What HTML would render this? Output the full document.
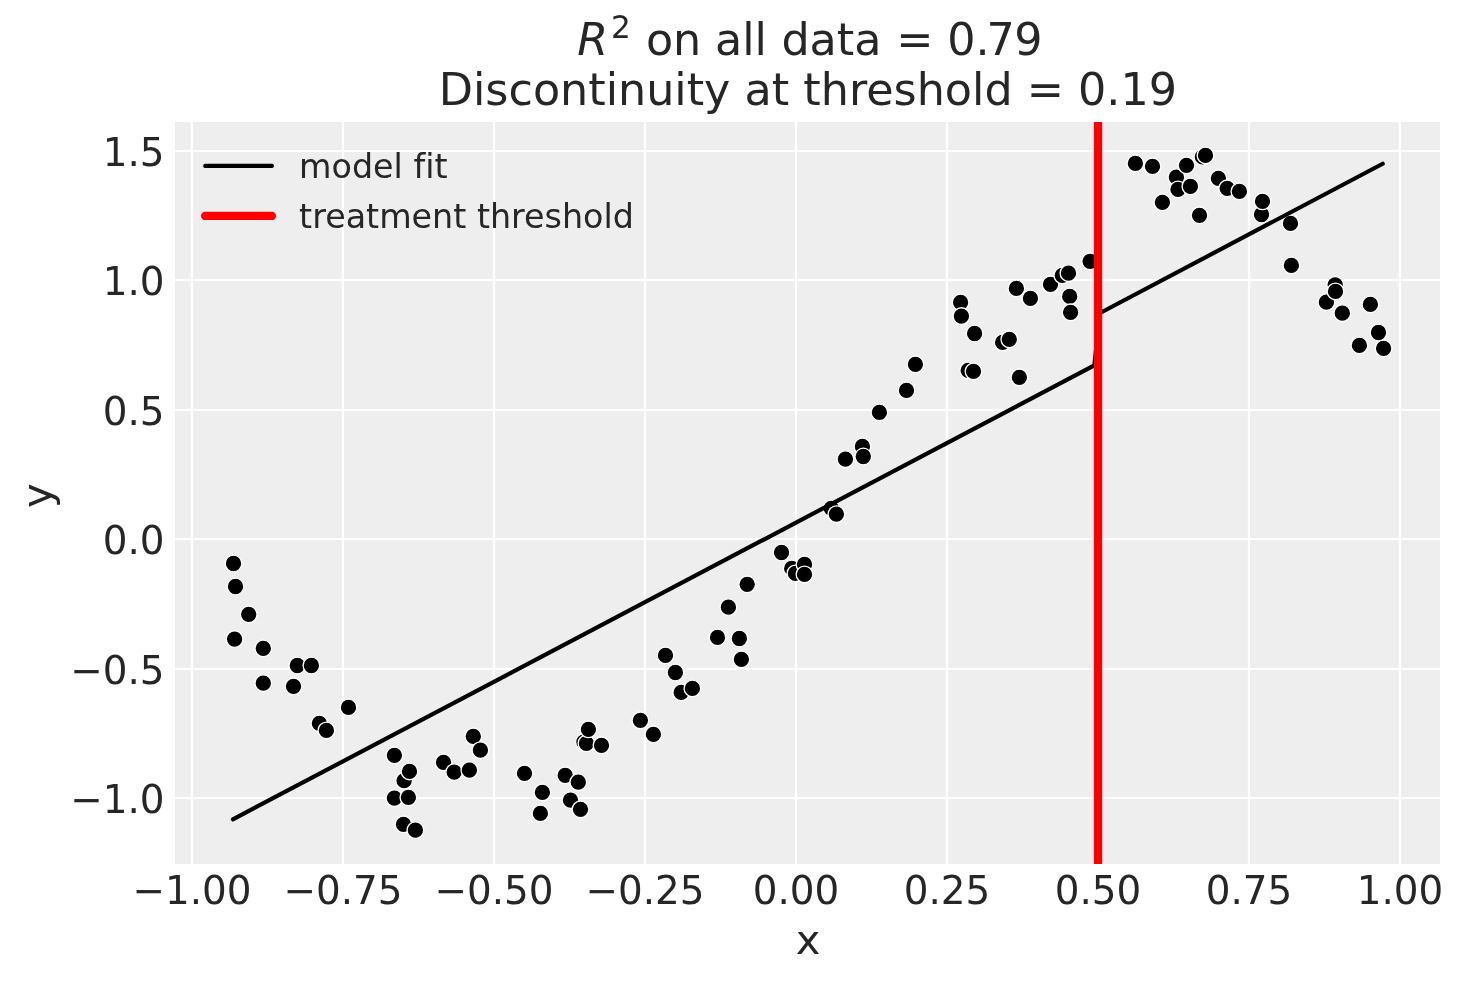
<!DOCTYPE html>
<html lang="en"><head><meta charset="utf-8"><title>Regression discontinuity</title>
<style>
html,body{margin:0;padding:0;background:#fff;}
body{width:1463px;height:983px;overflow:hidden;}
svg{display:block;will-change:transform;}
text{font-family:"DejaVu Sans", "Liberation Sans", sans-serif;fill:#262626;font-variant-ligatures:none;font-feature-settings:"liga" 0,"clig" 0;}
.tick{font-size:38.89px;}
.lab{font-size:41.67px;}
.leg{font-size:33.33px;}
.title{font-size:44.44px;}
.grid line{stroke:#fff;stroke-width:2.22;}
.pts circle{fill:#000;stroke:#fff;stroke-width:1.33;}
</style></head><body>
<svg width="1463" height="983" viewBox="0 0 1463 983">
<rect x="0" y="0" width="1463" height="983" fill="#ffffff"/>
<rect x="175.00" y="122.00" width="1265.00" height="742.00" fill="#eeeeee"/>
<g class="grid">
<line x1="192.00" y1="122.00" x2="192.00" y2="864.00"/>
<line x1="343.00" y1="122.00" x2="343.00" y2="864.00"/>
<line x1="494.00" y1="122.00" x2="494.00" y2="864.00"/>
<line x1="645.00" y1="122.00" x2="645.00" y2="864.00"/>
<line x1="796.00" y1="122.00" x2="796.00" y2="864.00"/>
<line x1="947.00" y1="122.00" x2="947.00" y2="864.00"/>
<line x1="1098.00" y1="122.00" x2="1098.00" y2="864.00"/>
<line x1="1249.00" y1="122.00" x2="1249.00" y2="864.00"/>
<line x1="1400.00" y1="122.00" x2="1400.00" y2="864.00"/>
<line x1="175.00" y1="151.00" x2="1440.00" y2="151.00"/>
<line x1="175.00" y1="280.00" x2="1440.00" y2="280.00"/>
<line x1="175.00" y1="410.00" x2="1440.00" y2="410.00"/>
<line x1="175.00" y1="539.00" x2="1440.00" y2="539.00"/>
<line x1="175.00" y1="669.00" x2="1440.00" y2="669.00"/>
<line x1="175.00" y1="798.00" x2="1440.00" y2="798.00"/>
</g>
<g class="pts">
<circle cx="233.50" cy="563.50" r="8.33"/>
<circle cx="235.50" cy="586.50" r="8.33"/>
<circle cx="248.70" cy="614.30" r="8.33"/>
<circle cx="234.60" cy="639.10" r="8.33"/>
<circle cx="263.30" cy="648.30" r="8.33"/>
<circle cx="297.30" cy="665.50" r="8.33"/>
<circle cx="311.40" cy="665.50" r="8.33"/>
<circle cx="263.30" cy="683.20" r="8.33"/>
<circle cx="293.50" cy="686.30" r="8.33"/>
<circle cx="348.50" cy="707.40" r="8.33"/>
<circle cx="319.40" cy="723.30" r="8.33"/>
<circle cx="326.40" cy="730.40" r="8.33"/>
<circle cx="394.40" cy="755.30" r="8.33"/>
<circle cx="404.10" cy="780.70" r="8.33"/>
<circle cx="409.50" cy="771.40" r="8.33"/>
<circle cx="394.40" cy="798.10" r="8.33"/>
<circle cx="408.40" cy="797.40" r="8.33"/>
<circle cx="403.50" cy="824.30" r="8.33"/>
<circle cx="415.40" cy="830.20" r="8.33"/>
<circle cx="443.50" cy="762.30" r="8.33"/>
<circle cx="454.20" cy="772.20" r="8.33"/>
<circle cx="469.40" cy="770.20" r="8.33"/>
<circle cx="473.30" cy="736.30" r="8.33"/>
<circle cx="480.40" cy="750.20" r="8.33"/>
<circle cx="524.50" cy="773.30" r="8.33"/>
<circle cx="542.40" cy="792.40" r="8.33"/>
<circle cx="540.40" cy="813.40" r="8.33"/>
<circle cx="565.20" cy="775.30" r="8.33"/>
<circle cx="578.30" cy="782.20" r="8.33"/>
<circle cx="570.50" cy="800.20" r="8.33"/>
<circle cx="580.50" cy="809.30" r="8.33"/>
<circle cx="583.90" cy="741.80" r="8.33"/>
<circle cx="586.40" cy="743.30" r="8.33"/>
<circle cx="601.50" cy="745.30" r="8.33"/>
<circle cx="588.40" cy="729.30" r="8.33"/>
<circle cx="640.40" cy="720.30" r="8.33"/>
<circle cx="653.40" cy="734.30" r="8.33"/>
<circle cx="665.50" cy="655.30" r="8.33"/>
<circle cx="675.40" cy="672.50" r="8.33"/>
<circle cx="681.20" cy="692.40" r="8.33"/>
<circle cx="692.40" cy="688.40" r="8.33"/>
<circle cx="717.50" cy="637.40" r="8.33"/>
<circle cx="728.40" cy="607.20" r="8.33"/>
<circle cx="739.40" cy="638.50" r="8.33"/>
<circle cx="741.40" cy="659.30" r="8.33"/>
<circle cx="747.20" cy="584.30" r="8.33"/>
<circle cx="781.50" cy="552.50" r="8.33"/>
<circle cx="791.70" cy="568.40" r="8.33"/>
<circle cx="795.40" cy="573.40" r="8.33"/>
<circle cx="804.50" cy="564.50" r="8.33"/>
<circle cx="804.50" cy="574.40" r="8.33"/>
<circle cx="831.30" cy="508.40" r="8.33"/>
<circle cx="836.40" cy="514.20" r="8.33"/>
<circle cx="845.40" cy="459.20" r="8.33"/>
<circle cx="862.40" cy="446.40" r="8.33"/>
<circle cx="863.30" cy="456.50" r="8.33"/>
<circle cx="879.40" cy="412.40" r="8.33"/>
<circle cx="906.50" cy="390.40" r="8.33"/>
<circle cx="915.40" cy="364.30" r="8.33"/>
<circle cx="960.60" cy="302.30" r="8.33"/>
<circle cx="961.40" cy="316.10" r="8.33"/>
<circle cx="974.60" cy="333.50" r="8.33"/>
<circle cx="968.20" cy="370.40" r="8.33"/>
<circle cx="973.50" cy="371.30" r="8.33"/>
<circle cx="1002.60" cy="342.40" r="8.33"/>
<circle cx="1009.30" cy="339.30" r="8.33"/>
<circle cx="1019.40" cy="377.30" r="8.33"/>
<circle cx="1016.40" cy="288.40" r="8.33"/>
<circle cx="1030.40" cy="298.30" r="8.33"/>
<circle cx="1050.50" cy="284.30" r="8.33"/>
<circle cx="1062.30" cy="275.30" r="8.33"/>
<circle cx="1068.50" cy="273.20" r="8.33"/>
<circle cx="1069.70" cy="296.40" r="8.33"/>
<circle cx="1070.60" cy="312.30" r="8.33"/>
<circle cx="1090.10" cy="261.30" r="8.33"/>
<circle cx="1135.40" cy="163.40" r="8.33"/>
<circle cx="1152.50" cy="166.30" r="8.33"/>
<circle cx="1162.40" cy="202.30" r="8.33"/>
<circle cx="1176.40" cy="177.20" r="8.33"/>
<circle cx="1186.50" cy="165.30" r="8.33"/>
<circle cx="1178.00" cy="189.40" r="8.33"/>
<circle cx="1190.40" cy="186.30" r="8.33"/>
<circle cx="1199.50" cy="215.30" r="8.33"/>
<circle cx="1202.40" cy="156.80" r="8.33"/>
<circle cx="1205.50" cy="155.40" r="8.33"/>
<circle cx="1218.40" cy="178.30" r="8.33"/>
<circle cx="1227.20" cy="188.30" r="8.33"/>
<circle cx="1239.40" cy="191.40" r="8.33"/>
<circle cx="1261.50" cy="214.50" r="8.33"/>
<circle cx="1262.50" cy="201.30" r="8.33"/>
<circle cx="1290.50" cy="223.40" r="8.33"/>
<circle cx="1291.40" cy="265.40" r="8.33"/>
<circle cx="1335.20" cy="284.80" r="8.33"/>
<circle cx="1326.40" cy="302.20" r="8.33"/>
<circle cx="1335.50" cy="291.40" r="8.33"/>
<circle cx="1342.30" cy="313.20" r="8.33"/>
<circle cx="1370.40" cy="304.40" r="8.33"/>
<circle cx="1378.50" cy="332.50" r="8.33"/>
<circle cx="1359.40" cy="345.40" r="8.33"/>
<circle cx="1383.60" cy="348.40" r="8.33"/>
</g>
<polyline points="232.9,819.35 1094.3,365.4 1100.05,313.0 1382.7,163.75" fill="none" stroke="#000" stroke-width="4.17" stroke-linecap="round" stroke-linejoin="round"/>
<line x1="1098.0" y1="122.00" x2="1098.0" y2="864.00" stroke="#ff0000" stroke-width="8.33"/>
<line x1="205.2" y1="165.9" x2="271.9" y2="165.9" stroke="#000" stroke-width="4.17" stroke-linecap="round"/>
<line x1="205.2" y1="215.95" x2="271.9" y2="215.95" stroke="#ff0000" stroke-width="8.33" stroke-linecap="round"/>
<text class="leg" x="299.1" y="178">model fit</text>
<text class="leg" x="299.1" y="228">treatment threshold</text>
<text class="tick" x="191.95" y="904.00" text-anchor="middle">−1.00</text>
<text class="tick" x="342.96" y="904.00" text-anchor="middle">−0.75</text>
<text class="tick" x="493.98" y="904.00" text-anchor="middle">−0.50</text>
<text class="tick" x="644.99" y="904.00" text-anchor="middle">−0.25</text>
<text class="tick" x="796.00" y="904.00" text-anchor="middle">0.00</text>
<text class="tick" x="947.00" y="904.00" text-anchor="middle">0.25</text>
<text class="tick" x="1098.00" y="904.00" text-anchor="middle">0.50</text>
<text class="tick" x="1249.00" y="904.00" text-anchor="middle">0.75</text>
<text class="tick" x="1400.05" y="904.00" text-anchor="middle">1.00</text>
<text class="tick" x="164.60" y="166.00" text-anchor="end">1.5</text>
<text class="tick" x="164.60" y="295.00" text-anchor="end">1.0</text>
<text class="tick" x="164.60" y="425.00" text-anchor="end">0.5</text>
<text class="tick" x="164.60" y="554.00" text-anchor="end">0.0</text>
<text class="tick" x="164.60" y="684.00" text-anchor="end">−0.5</text>
<text class="tick" x="164.60" y="813.00" text-anchor="end">−1.0</text>
<text class="lab" x="808.2" y="954" text-anchor="middle">x</text>
<text class="lab" transform="translate(50.6,495.6) rotate(-90)" text-anchor="middle">y</text>
<text class="title" y="55"><tspan x="577.2" font-style="oblique">R</tspan><tspan x="611.1" dy="-17" font-size="31.1px">2 </tspan><tspan x="645.9" dy="17">on </tspan><tspan x="714.95">all </tspan><tspan x="781.4">data </tspan><tspan x="896.2">= </tspan><tspan x="947.3">0.</tspan><tspan x="986.6">7</tspan><tspan x="1014.15">9</tspan></text>
<text class="title" x="807.9" y="105" text-anchor="middle">Discontinuity at threshold = 0.19</text>
</svg>
</body></html>
